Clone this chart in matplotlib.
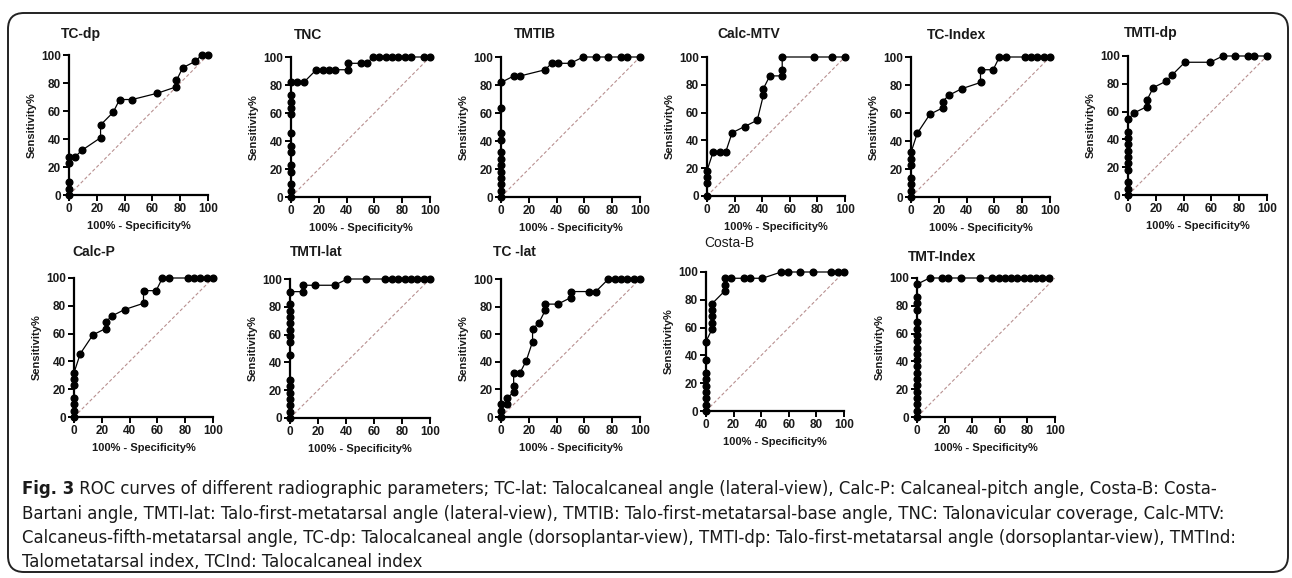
import matplotlib
matplotlib.use("Agg")
import matplotlib.pyplot as plt
from matplotlib import font_manager
from matplotlib.patches import FancyBboxPatch
from matplotlib.transforms import IdentityTransform

plt.rcParams['font.family'] = ['Liberation Sans', 'DejaVu Sans']

# ROC points: x = 100% - specificity%, y = sensitivity%
tc_dp_x = [0, 0, 0, 0, 0, 4.5, 9.1, 22.7, 22.7, 31.8, 36.4, 45.5, 63.6, 77.3, 77.3, 81.8, 90.9, 95.5, 100]
tc_dp_y = [0, 4.5, 9.1, 22.7, 27.3, 27.3, 31.8, 40.9, 50.0, 59.1, 68.2, 68.2, 72.7, 77.3, 81.8, 90.9, 95.5, 100, 100]

tnc_x = [0, 0, 0, 0, 0, 0, 0, 0, 0, 0, 0, 0, 0, 4.5, 9.1, 18.2, 22.7, 27.3, 31.8, 40.9, 40.9, 50.0, 54.5,
         59.1, 63.6, 68.2, 72.7, 77.3, 81.8, 86.4, 95.5, 100]
tnc_y = [0, 4.5, 9.1, 18.2, 22.7, 31.8, 36.4, 45.5, 59.1, 63.6, 68.2, 72.7, 81.8, 81.8, 81.8, 90.9, 90.9, 90.9, 90.9,
         90.9, 95.5, 95.5, 95.5, 100, 100, 100, 100, 100, 100, 100, 100, 100]

tmtib_x = [0, 0, 0, 0, 0, 0, 0, 0, 0, 0, 0, 0, 9.1, 13.6, 31.8, 36.4, 40.9, 50.0, 59.1, 68.2, 77.3, 86.4, 90.9, 100]
tmtib_y = [0, 4.5, 9.1, 13.6, 18.2, 22.7, 27.3, 31.8, 40.9, 45.5, 63.6, 81.8, 86.4, 86.4, 90.9, 95.5, 95.5, 95.5,
           100, 100, 100, 100, 100, 100]

calc_mtv_x = [0, 0, 0, 0, 4.5, 9.1, 13.6, 18.2, 27.3, 36.4, 40.9, 40.9, 45.5, 54.5, 54.5, 54.5, 77.3, 90.9, 100]
calc_mtv_y = [0, 9.1, 13.6, 18.2, 31.8, 31.8, 31.8, 45.5, 50.0, 54.5, 72.7, 77.3, 86.4, 86.4, 90.9, 100, 100, 100, 100]

tc_index_x = [0, 0, 0, 0, 0, 0, 0, 4.5, 13.6, 22.7, 22.7, 27.3, 36.4, 50.0, 50.0, 59.1, 63.6, 68.2, 81.8, 86.4,
              90.9, 95.5, 100]
tc_index_y = [0, 4.5, 9.1, 13.6, 22.7, 27.3, 31.8, 45.5, 59.1, 63.6, 68.2, 72.7, 77.3, 81.8, 90.9, 90.9, 100, 100,
              100, 100, 100, 100, 100]

tmti_dp_x = [0, 0, 0, 0, 0, 0, 0, 0, 0, 0, 0, 4.5, 13.6, 13.6, 18.2, 27.3, 31.8, 40.9, 59.1, 68.2, 77.3, 86.4, 90.9, 100]
tmti_dp_y = [0, 4.5, 9.1, 18.2, 22.7, 27.3, 31.8, 36.4, 40.9, 45.5, 54.5, 59.1, 63.6, 68.2, 77.3, 81.8, 86.4, 95.5,
             95.5, 100, 100, 100, 100, 100]

calc_p_x = [0, 0, 0, 0, 0, 0, 0, 4.5, 13.6, 22.7, 22.7, 27.3, 36.4, 50.0, 50.0, 59.1, 63.6, 68.2, 81.8, 86.4,
            90.9, 95.5, 100]
calc_p_y = [0, 4.5, 9.1, 13.6, 22.7, 27.3, 31.8, 45.5, 59.1, 63.6, 68.2, 72.7, 77.3, 81.8, 90.9, 90.9, 100, 100,
            100, 100, 100, 100, 100]

tmti_lat_x = [0, 0, 0, 0, 0, 0, 0, 0, 0, 0, 0, 0, 0, 0, 0, 0, 9.1, 9.1, 18.2, 31.8, 40.9, 54.5, 68.2, 72.7, 77.3,
              81.8, 86.4, 90.9, 95.5, 100]
tmti_lat_y = [0, 4.5, 9.1, 13.6, 18.2, 22.7, 27.3, 45.5, 54.5, 59.1, 63.6, 68.2, 72.7, 77.3, 81.8, 90.9, 90.9, 95.5,
              95.5, 95.5, 100, 100, 100, 100, 100, 100, 100, 100, 100, 100]

tc_lat_x = [0, 0, 0, 4.5, 4.5, 9.1, 9.1, 9.1, 13.6, 18.2, 22.7, 22.7, 27.3, 31.8, 31.8, 40.9, 50.0, 50.0, 63.6, 68.2,
            77.3, 81.8, 86.4, 90.9, 95.5, 100]
tc_lat_y = [0, 4.5, 9.1, 9.1, 13.6, 18.2, 22.7, 31.8, 31.8, 40.9, 54.5, 63.6, 68.2, 77.3, 81.8, 81.8, 86.4, 90.9,
            90.9, 90.9, 100, 100, 100, 100, 100, 100]

costa_b_x = [0, 0, 0, 0, 0, 0, 0, 0, 0, 4.5, 4.5, 4.5, 4.5, 4.5, 13.6, 13.6, 13.6, 18.2, 27.3, 31.8, 40.9, 54.5,
             59.1, 68.2, 77.3, 90.9, 95.5, 100]
costa_b_y = [0, 4.5, 9.1, 13.6, 18.2, 22.7, 27.3, 36.4, 50.0, 59.1, 63.6, 68.2, 72.7, 77.3, 86.4, 90.9, 95.5, 95.5,
             95.5, 95.5, 95.5, 100, 100, 100, 100, 100, 100, 100]

tmt_index_x = [0, 0, 0, 0, 0, 0, 0, 0, 0, 0, 0, 0, 0, 0, 0, 0, 0, 0, 0, 0, 9.1, 18.2, 22.7, 31.8, 45.5, 54.5,
               59.1, 63.6, 68.2, 72.7, 77.3, 81.8, 86.4, 90.9, 95.5]
tmt_index_y = [0, 4.5, 9.1, 13.6, 18.2, 22.7, 27.3, 31.8, 36.4, 40.9, 45.5, 50.0, 54.5, 59.1, 63.6, 68.2, 77.3, 81.8,
               86.4, 95.5, 100, 100, 100, 100, 100, 100, 100, 100, 100, 100, 100, 100, 100, 100, 100]

titles = ["TC-dp", "TNC", "TMTIB", "Calc-MTV", "TC-Index", "TMTI-dp",
          "Calc-P", "TMTI-lat", "TC -lat", "Costa-B", "TMT-Index"]
curves = [(tc_dp_x, tc_dp_y), (tnc_x, tnc_y), (tmtib_x, tmtib_y), (calc_mtv_x, calc_mtv_y),
          (tc_index_x, tc_index_y), (tmti_dp_x, tmti_dp_y), (calc_p_x, calc_p_y),
          (tmti_lat_x, tmti_lat_y), (tc_lat_x, tc_lat_y), (costa_b_x, costa_b_y),
          (tmt_index_x, tmt_index_y)]
ticks = [0, 20, 40, 60, 80, 100]

caption_lines = [
    " ROC curves of different radiographic parameters; TC-lat: Talocalcaneal angle (lateral-view), "
    "Calc-P: Calcaneal-pitch angle, Costa-B: Costa-",
    "Bartani angle, TMTI-lat: Talo-first-metatarsal angle (lateral-view), TMTIB: Talo-first-metatarsal-base angle, "
    "TNC: Talonavicular coverage, Calc-MTV:",
    "Calcaneus-fifth-metatarsal angle, TC-dp: Talocalcaneal angle (dorsoplantar-view), TMTI-dp: Talo-first-metatarsal "
    "angle (dorsoplantar-view), TMTInd:",
    "Talometatarsal index, TCInd: Talocalcaneal index",
]

# layout in pixels: axis left, axis right, y of 100, y of 0 (from top)
W, H = 1292, 578
boxes = [(69, 208, 55, 195), (291, 430, 57, 197), (501, 640, 57, 197), (707, 845, 57, 196),
         (911, 1050, 57, 197), (1128, 1267, 56, 195),
         (74, 213, 278, 417), (290, 430, 279, 418), (501, 640, 279, 417), (706, 844, 272, 411),
         (917, 1055, 278, 417)]
title_pos = [(61, 34), (294, 35), (514, 34), (717, 34), (927, 35), (1124, 33),
             (72, 252), (290, 252), (493, 252), (704, 243), (908, 257)]

fig = plt.figure(figsize=(W / 100, H / 100), dpi=100)

for i, (xs, ys) in enumerate(curves):
    l, r, t, b = boxes[i]
    ax = fig.add_axes([l / W, 1 - b / H, (r - l) / W, (b - t) / H])
    ax.plot([0, 100], [0, 100], color='#b89090', lw=0.8, ls=(0, (3, 2)), zorder=1)
    ax.plot(xs, ys, color='black', lw=0.9, marker='o', ms=4.8, mfc='black', mec='black',
            clip_on=False, zorder=3)
    ax.set_xlim(0, 100)
    ax.set_ylim(0, 100)
    ax.set_xticks(ticks)
    ax.set_yticks(ticks)
    for s in ['top', 'right']:
        ax.spines[s].set_visible(False)
    for s in ['left', 'bottom']:
        ax.spines[s].set_linewidth(1.6)
    ax.tick_params(direction='out', length=4, width=1.4, pad=2, labelsize=8.5, labelcolor='#1a1a1a')
    for lab in ax.get_xticklabels() + ax.get_yticklabels():
        lab.set_fontweight('bold')
    ax.set_xlabel("100% - Specificity%", fontsize=8, fontweight='bold', color='#1a1a1a', labelpad=4)
    ax.set_ylabel("Sensitivity%", fontsize=8, fontweight='bold', color='#1a1a1a', labelpad=3)
    ax.patch.set_visible(False)
    tx, ty = title_pos[i]
    fig.text(tx / W, 1 - ty / H, titles[i], fontsize=10,
             fontweight='normal' if titles[i] == "Costa-B" else 'bold',
             ha='left', va='center', color='#1a1a1a')

# rounded frame around the figure
frame = FancyBboxPatch((8, 6), 1280, 559, boxstyle="round,pad=0,rounding_size=16",
                       transform=IdentityTransform(), fill=False, lw=1.4, ec='#222222')
fig.add_artist(frame)

# caption: a narrow face if one exists
cap_kw = dict(family=['Liberation Sans', 'DejaVu Sans'])
for fam, stretch in [('Liberation Sans Narrow', 'normal'), ('DejaVu Sans', 'condensed')]:
    try:
        path = font_manager.findfont(font_manager.FontProperties(family=fam, stretch=stretch),
                                     fallback_to_default=False)
        if 'Narrow' in path or 'Condensed' in path:
            cap_kw = dict(family=[fam, 'DejaVu Sans'], stretch=stretch)
            break
    except Exception:
        pass

# one font size for the caption, fitted to the widths of the three full lines
renderer = fig.canvas.get_renderer()
total = 0
for k in range(3):
    txt = ("Fig. 3" if k == 0 else "") + caption_lines[k]
    probe = fig.text(0, 0, txt, fontsize=12, **cap_kw)
    total += probe.get_window_extent(renderer).width
    probe.remove()
cap_size = 12 * ((1208 - 22) + (1207 - 22) + (1262 - 22)) / total

cap_y = [489, 514, 538, 562]
fig_lab = fig.text(22 / W, 1 - cap_y[0] / H, "Fig. 3", fontsize=cap_size, fontweight='bold',
                   ha='left', va='center', color='#1a1a1a', **cap_kw)
fw = fig_lab.get_window_extent(renderer).width
fig.text((22 + fw) / W, 1 - cap_y[0] / H, caption_lines[0], fontsize=cap_size,
         ha='left', va='center', color='#1a1a1a', **cap_kw)
for k in range(1, 4):
    fig.text(22 / W, 1 - cap_y[k] / H, caption_lines[k], fontsize=cap_size,
             ha='left', va='center', color='#1a1a1a', **cap_kw)

fig.savefig("out.png", dpi=100)
